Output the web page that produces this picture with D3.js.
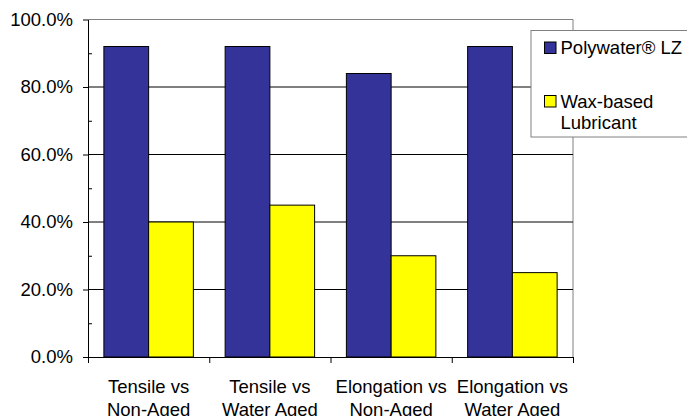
<!DOCTYPE html>
<html>
<head>
<meta charset="utf-8">
<script src="https://cdn.jsdelivr.net/npm/d3@7"></script>
<style>
  body { margin: 0; background: #fff; }
  svg { display: block; font-family: "Liberation Sans", Arial, sans-serif; }
</style>
</head>
<body>
<svg id="chart" width="687" height="416"></svg>
<script>
// data
var categories = [
  ["Tensile vs", "Non-Aged"],
  ["Tensile vs", "Water Aged"],
  ["Elongation vs", "Non-Aged"],
  ["Elongation vs", "Water Aged"]
];
var seriesNames = ["Polywater\u00AE LZ", "Wax-based Lubricant"];
var polywater = [0.92, 0.92, 0.84, 0.92];
var waxBased = [0.40, 0.45, 0.30, 0.25];
var yTicks = [0, 0.2, 0.4, 0.6, 0.8, 1.0];
var yMinorTicks = [0.1, 0.3, 0.5, 0.7, 0.9];

var COLORS = ["#333399", "#ffff00"];
var LEFT = 88, RIGHT = 573, TOP = 19.5, BOTTOM = 357;
var FONT = 18.5;

var svg = d3.select("#chart");

var catIdx = categories.map(function(d, i) { return i; });
var x0 = d3.scaleBand().domain(catIdx).range([LEFT, RIGHT]).padding(0);
var x1 = d3.scaleBand().domain([0, 1]).range([0, x0.bandwidth()])
           .paddingInner(0).paddingOuter(0.355);
var y = d3.scaleLinear().domain([0, 1]).range([BOTTOM, TOP]);
var xEdge = d3.scaleLinear().domain([0, categories.length]).range([LEFT, RIGHT]);

// frame top / right
svg.append("path")
   .attr("d", "M" + LEFT + "," + TOP + "H" + RIGHT + "V" + BOTTOM)
   .attr("fill", "none")
   .attr("stroke", "#808080")
   .attr("stroke-width", 1);

// gridlines
svg.append("g").selectAll("line")
   .data(yTicks.filter(function(v) { return v > 0 && v < 1; }))
   .enter().append("line")
   .attr("x1", LEFT).attr("x2", RIGHT)
   .attr("y1", function(d) { return y(d); })
   .attr("y2", function(d) { return y(d); })
   .attr("stroke", "#000")
   .attr("stroke-width", 1);

// bars
var data = catIdx.map(function(i) { return [polywater[i], waxBased[i]]; });
var groups = svg.append("g").selectAll("g")
   .data(data)
   .enter().append("g")
   .attr("transform", function(d, i) { return "translate(" + x0(i) + ",0)"; });

groups.selectAll("rect")
   .data(function(d) { return d; })
   .enter().append("rect")
   .attr("x", function(d, j) { return x1(j); })
   .attr("y", function(d) { return y(d); })
   .attr("width", x1.bandwidth())
   .attr("height", function(d) { return BOTTOM - y(d); })
   .attr("fill", function(d, j) { return COLORS[j]; })
   .attr("stroke", "#000")
   .attr("stroke-width", 1);

// y axis
var yAxis = svg.append("g")
   .attr("transform", "translate(" + LEFT + ",0)")
   .call(d3.axisLeft(y).tickValues(yTicks).tickFormat(d3.format(".1%"))
           .tickSize(5).tickSizeOuter(0).tickPadding(10));
yAxis.select(".domain").attr("stroke", "#000");
yAxis.selectAll("text").attr("font-size", FONT).attr("font-family", "Liberation Sans, Arial, sans-serif")
     .attr("fill", "#000");

svg.append("g")
   .attr("transform", "translate(" + LEFT + ",0)")
   .call(d3.axisRight(y).tickValues(yMinorTicks).tickFormat("").tickSize(4).tickSizeOuter(0))
   .select(".domain").remove();

// x axis
var xAxis = svg.append("g")
   .attr("transform", "translate(0," + BOTTOM + ")")
   .call(d3.axisBottom(xEdge).tickValues(d3.range(categories.length + 1))
           .tickFormat("").tickSize(6).tickSizeOuter(0));
xAxis.select(".domain").attr("stroke", "#000");

var xLabels = svg.append("g").selectAll("text")
   .data(categories)
   .enter().append("text")
   .attr("x", function(d, i) { return x0(i) + x0.bandwidth() / 2; })
   .attr("y", BOTTOM + 35.5)
   .attr("text-anchor", "middle")
   .attr("font-size", FONT)
   .attr("fill", "#000");
xLabels.selectAll("tspan")
   .data(function(d) { return d; })
   .enter().append("tspan")
   .attr("x", function() { return this.parentNode.getAttribute("x"); })
   .attr("dy", function(d, k) { return k === 0 ? 0 : 23; })
   .text(function(d) { return d; });

// legend
var legend = svg.append("g");
legend.append("rect")
   .attr("x", 531).attr("y", 30.5)
   .attr("width", 170).attr("height", 106.5)
   .attr("fill", "#fff")
   .attr("stroke", "#808080")
   .attr("stroke-width", 1);

var legendLines = [["Polywater\u00AE LZ"], ["Wax-based", "Lubricant"]];
var legendY = [54, 107.5];
seriesNames.forEach(function(name, j) {
  legend.append("rect")
     .attr("x", 544.5).attr("y", legendY[j] - 12)
     .attr("width", 11.5).attr("height", 11.5)
     .attr("fill", COLORS[j])
     .attr("stroke", "#000")
     .attr("stroke-width", 1);
  var t = legend.append("text")
     .attr("x", 560.5).attr("y", legendY[j])
     .attr("font-size", FONT)
     .attr("fill", "#000");
  legendLines[j].forEach(function(line, k) {
    t.append("tspan").attr("x", 560.5).attr("dy", k === 0 ? 0 : 21.5).text(line);
  });
});
</script>
</body>
</html>
